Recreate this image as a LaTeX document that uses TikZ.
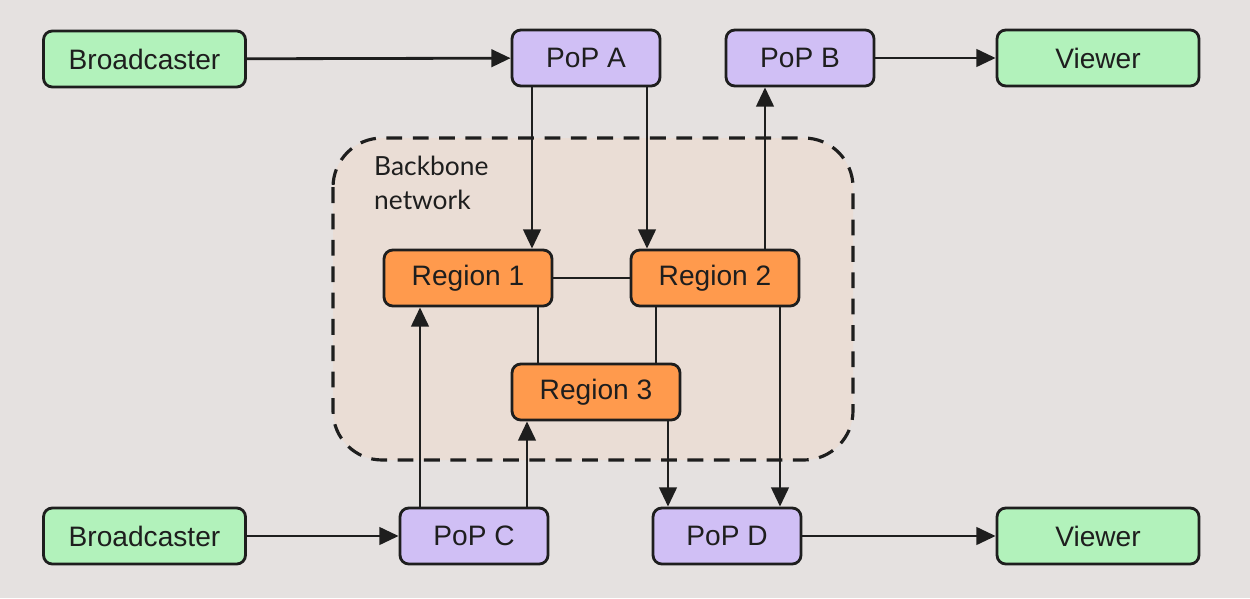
\documentclass[tikz,border=0pt]{standalone}
\usepackage{fontspec}
\setmainfont{Liberation Sans}
\newfontfamily\handf{Lato}
\usetikzlibrary{arrows.meta}
\definecolor{bg}{HTML}{E5E1E0}
\definecolor{grn}{HTML}{B2F2BB}
\definecolor{pur}{HTML}{D0BFF5}
\definecolor{org}{HTML}{FF9A4D}
\definecolor{grp}{HTML}{EADDD5}
\definecolor{ink}{HTML}{1E1E1E}
\begin{document}
\begin{tikzpicture}[x=0.02cm,y=-0.02cm,
  box/.style={draw=ink,line width=1.6pt,rounded corners=5pt,minimum height=1.12cm,font=\fontsize{16}{18}\selectfont,text=ink,inner sep=0pt},
  green/.style={box,fill=grn,minimum width=4.04cm},
  pop/.style={box,fill=pur,minimum width=2.96cm},
  reg/.style={box,fill=org,minimum width=3.36cm},
  link/.style={draw=ink,line width=1.6pt},
  arr/.style={link,-{Triangle[length=11pt,width=10pt]}}]
\fill[bg] (0,0) rectangle (1250,598);
\draw[ink,line width=1.8pt,dash pattern=on 9pt off 6pt,fill=grp,rounded corners=28pt] (333,138) rectangle (853,460);
\node[font=\handf\fontsize{15}{19}\selectfont,text=ink,align=left,anchor=north west] (lbl) at (368,150) {Backbone\\ network};
\node[green] (b1) at (144.5,59) {Broadcaster};
\node[pop] (pa) at (586,58) {PoP A};
\node[pop] (pb) at (800,58) {PoP B};
\node[green] (v1) at (1098,58) {Viewer};
\node[reg] (r1) at (468,278) {Region 1};
\node[reg] (r2) at (715,278) {Region 2};
\node[reg] (r3) at (596,392) {Region 3};
\node[green] (b2) at (144.5,536) {Broadcaster};
\node[pop] (pc) at (474,536) {PoP C};
\node[pop] (pd) at (727,536) {PoP D};
\node[green] (v2) at (1098,536) {Viewer};
\draw[arr] (b1) -- (pa);
\draw[arr] (pb) -- (v1);
\draw[arr] (b2) -- (pc);
\draw[arr] (pd) -- (v2);
\draw[arr] (pa.south -| 532,0) -- (r1.north -| 532,0);
\draw[arr] (pa.south -| 647,0) -- (r2.north -| 647,0);
\draw[arr] (r2.north -| 765,0) -- (pb.south -| 765,0);
\draw[link] (r1) -- (r2);
\draw[link] (r1.south -| 538,0) -- (r3.north -| 538,0);
\draw[link] (r2.south -| 656,0) -- (r3.north -| 656,0);
\draw[arr] (pc.north -| 420,0) -- (r1.south -| 420,0);
\draw[arr] (pc.north -| 527,0) -- (r3.south -| 527,0);
\draw[arr] (r3.south -| 668,0) -- (pd.north -| 668,0);
\draw[arr] (r2.south -| 780,0) -- (pd.north -| 780,0);
\end{tikzpicture}
\end{document}
